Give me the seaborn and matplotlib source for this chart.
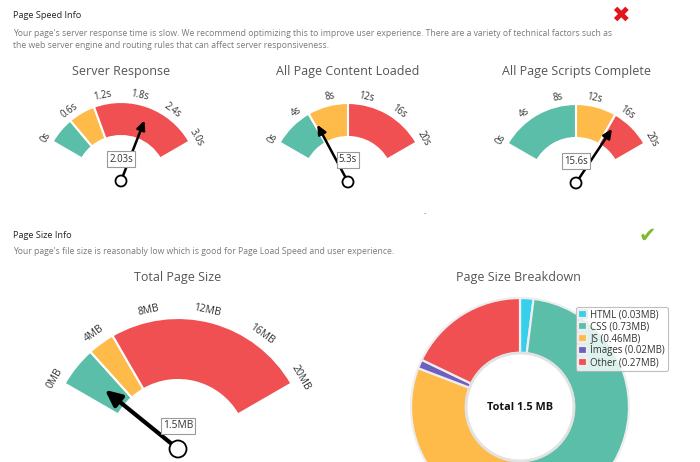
import matplotlib
matplotlib.use("Agg")
import matplotlib.pyplot as plt
from matplotlib.patches import Circle
import seaborn as sns
import math

# ---------------- data ----------------
gauge_titles = ["Server Response", "All Page Content Loaded",
                "All Page Scripts Complete", "Total Page Size"]
gauge_ticks = [[0, 0.6, 1.2, 1.8, 2.4, 3.0],
               [0, 4, 8, 12, 16, 20],
               [0, 4, 8, 12, 16, 20],
               [0, 4, 8, 12, 16, 20]]
gauge_tick_labels = [["0s", "0.6s", "1.2s", "1.8s", "2.4s", "3.0s"],
                     ["0s", "4s", "8s", "12s", "16s", "20s"],
                     ["0s", "4s", "8s", "12s", "16s", "20s"],
                     ["0MB", "4MB", "8MB", "12MB", "16MB", "20MB"]]
gauge_thresholds = [[0.5, 1.0], [5, 10], [10, 15], [3, 5]]
gauge_values = [2.03, 5.3, 15.6, 1.5]
gauge_value_labels = ["2.03s", "5.3s", "15.6s", "1.5MB"]

breakdown_labels = ["HTML", "CSS", "JS", "Images", "Other"]
breakdown_mb = [0.03, 0.73, 0.46, 0.02, 0.27]
breakdown_total = "Total 1.5 MB"

speed_head = "Page Speed Info"
speed_text = ["Your page's server response time is slow. We recommend optimizing this to improve user experience. There are a variety of technical factors such as",
              "the web server engine and routing rules that can affect server responsiveness."]
size_head = "Page Size Info"
size_text = ["Your page's file size is reasonably low which is good for Page Load Speed and user experience."]

# ---------------- style / layout ----------------
sns.set_theme(style="white")
plt.rcParams["font.family"] = ["Open Sans", "DejaVu Sans"]

TEAL, YELLOW, RED = "#5bbea9", "#ffbb4a", "#f05052"
band_colors = [TEAL, YELLOW, RED]
donut_colors = ["#37d0ec", TEAL, YELLOW, "#6f60bf", RED]

W, H = 700, 462
def Y(y):
    return H - y

gauge_layout = [
    dict(c=(121, 181), r=79, w=34, nl=65, pr=5.5, lab=8, fs=6.9, lw=1.8, ms=9, title_y=71, box_dy=22),
    dict(c=(348, 182), r=79, w=34, nl=65, pr=5.5, lab=8, fs=6.9, lw=1.8, ms=9, title_y=71, box_dy=22),
    dict(c=(576, 183), r=79, w=34, nl=65, pr=5.5, lab=8, fs=6.9, lw=1.8, ms=9, title_y=71, box_dy=22),
    dict(c=(178, 449), r=131, w=62, nl=94, pr=8.5, lab=11, fs=7.4, lw=3.0, ms=16, title_y=277, box_dy=23),
]
START, SWEEP = 150.0, 120.0

fig = plt.figure(figsize=(7.0, 4.62), dpi=100)
ax = fig.add_axes([0, 0, 1, 1])

for title, ticks, tlabs, thr, val, vlab, lay in zip(
        gauge_titles, gauge_ticks, gauge_tick_labels, gauge_thresholds,
        gauge_values, gauge_value_labels, gauge_layout):
    vmax = ticks[-1]
    cx, cy = lay["c"][0], Y(lay["c"][1])
    edges = [0] + thr + [vmax]
    widths = [b - a for a, b in zip(edges[:-1], edges[1:])]
    blank = vmax * (360.0 - SWEEP) / SWEEP
    wedges, _ = ax.pie(widths + [blank], colors=band_colors + ["none"],
                       startangle=START, counterclock=False, radius=lay["r"],
                       center=(cx, cy), frame=True,
                       wedgeprops=dict(width=lay["w"], edgecolor="white", linewidth=1.5))
    wedges[-1].set_edgecolor("none")
    for t, tl in zip(ticks, tlabs):
        th = START - t / vmax * SWEEP
        rr = lay["r"] + lay["lab"]
        ax.text(cx + rr * math.cos(math.radians(th)), cy + rr * math.sin(math.radians(th)),
                tl, rotation=th - 90, rotation_mode="anchor", ha="center", va="center",
                fontsize=lay["fs"], color="#333333")
    th = math.radians(START - val / vmax * SWEEP)
    tip = (cx + lay["nl"] * math.cos(th), cy + lay["nl"] * math.sin(th))
    ax.annotate("", xy=tip, xytext=(cx, cy),
                arrowprops=dict(arrowstyle="-|>,head_length=0.6,head_width=0.28",
                                color="black", lw=lay["lw"], shrinkA=0, shrinkB=0,
                                mutation_scale=lay["ms"]), zorder=4)
    ax.add_patch(Circle((cx, cy), lay["pr"], fc="white", ec="black", lw=1.3, zorder=5))
    ax.text(cx, cy + lay["box_dy"], vlab, ha="center", va="center", fontsize=lay["fs"],
            color="#333333", zorder=6,
            bbox=dict(boxstyle="square,pad=0.22", fc="white", ec="#9a9a9a", lw=0.8))
    ax.text(cx, Y(lay["title_y"]), title, ha="center", va="center", fontsize=9,
            color="#555555")

# donut
dcx, dcy = 520, Y(407)
wedges, _ = ax.pie(breakdown_mb, colors=donut_colors, startangle=90, counterclock=False,
                   radius=109, center=(dcx, dcy), frame=True,
                   wedgeprops=dict(width=55, edgecolor="#eeeeee", linewidth=1.6))
ax.add_patch(Circle((dcx, dcy), 54, fc="none", ec="#e2e2e2", lw=2.0, zorder=3))
ax.text(dcx, dcy, breakdown_total, ha="center", va="center", fontsize=7.8,
        fontweight="bold", color="#111111")
ax.text(518, Y(277), "Page Size Breakdown", ha="center", va="center", fontsize=9,
        color="#555555")
leg = ax.legend(wedges, [f"{n} ({v:.2f}MB)" for n, v in zip(breakdown_labels, breakdown_mb)],
                loc="upper left", bbox_to_anchor=(576 / W, Y(307) / H), fontsize=6.9,
                frameon=True, fancybox=True, borderpad=0.25, labelspacing=0.1,
                handlelength=0.85, handleheight=0.85, handletextpad=0.4, borderaxespad=0)
leg.get_frame().set_edgecolor("#b0b0b0")
leg.get_frame().set_linewidth(0.8)
for t in leg.get_texts():
    t.set_color("#333333")

# header texts
ax.text(13, Y(15), speed_head, ha="left", va="center", fontsize=6.6, color="#222222")
for i, line in enumerate(speed_text):
    ax.text(13, Y(33 + 13 * i), line, ha="left", va="center", fontsize=6.2, color="#7a7a7a")
ax.text(13, Y(235), size_head, ha="left", va="center", fontsize=6.6, color="#222222")
for i, line in enumerate(size_text):
    ax.text(13, Y(252 + 13 * i), line, ha="left", va="center", fontsize=6.2, color="#7a7a7a")
ax.text(620, Y(16), "\u2716", ha="center", va="center", fontsize=16, color="#e3151a", family=["DejaVu Sans"])
ax.text(647, Y(236), "\u2714", ha="center", va="center", fontsize=15, color="#7cbb2f", family=["DejaVu Sans"])
ax.text(425, Y(213), ".", ha="center", va="center", fontsize=6, color="#333333")

ax.set_xlim(0, W)
ax.set_ylim(0, H)
ax.set_aspect("equal")
ax.axis("off")
fig.savefig("out.png", dpi=100)
